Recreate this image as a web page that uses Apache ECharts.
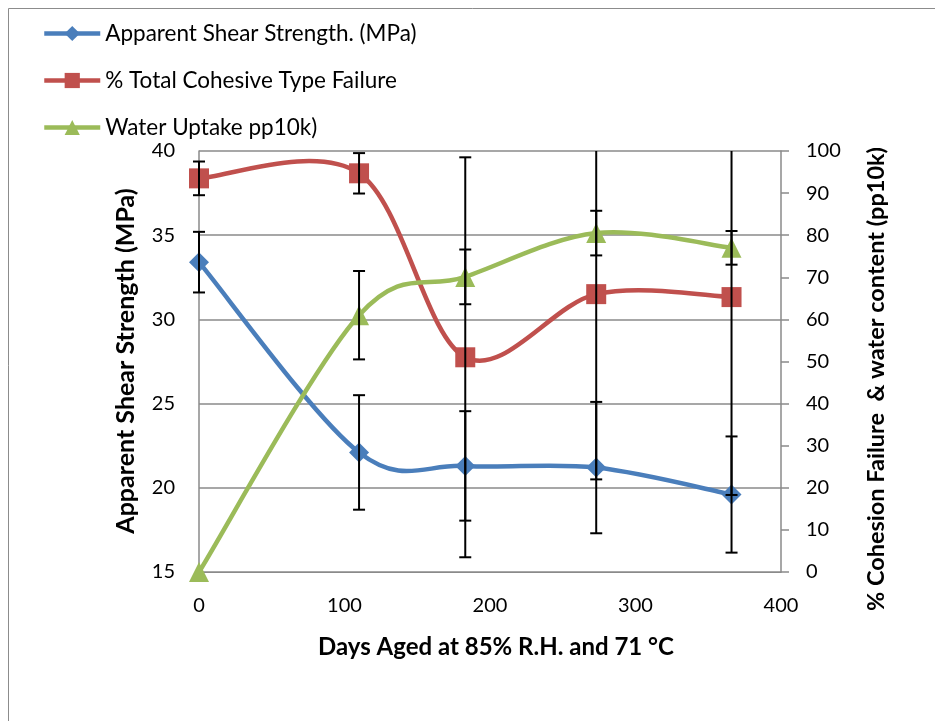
<!DOCTYPE html>
<html><head><meta charset="utf-8">
<script src="https://cdn.jsdelivr.net/npm/echarts@6/dist/echarts.min.js"></script>
<style>html,body{margin:0;padding:0;background:#fff}#c{width:935px;height:721px}</style>
</head><body><div id="c"></div>
<script>
const days = [0, 110, 183, 273, 366];
const shearStrength = [33.4, 22.1, 21.3, 21.2, 19.6];
const shearErr = [1.8, 3.4, 3.25, 3.9, 3.45];
const cohesiveFailure = [93.5, 94.7, 51.0, 66.0, 65.3];
const cohesiveErr = [4.0, 4.8, 47.5, 44.0, 47.0];
const waterUptake = [0, 61.0, 70.1, 80.5, 77.0];
const waterErr = [0, 10.5, 6.5, 5.3, 4.0];
const xTicks = [0, 400, 100];
const leftTicks = [15, 40, 5];
const rightTicks = [0, 100, 10];
const names = ['Apparent Shear Strength. (MPa)', '% Total Cohesive Type Failure', 'Water Uptake pp10k)'];
const colors = ['#4A7EBB', '#C0504D', '#9BBB59'];
const FONT = 'Lato';

const chart = echarts.init(document.getElementById('c'), null, {renderer: 'canvas'});

function pairs(xs, ys) { return xs.map((x, i) => [x, ys[i]]); }
function errData(xs, ys, es) { return xs.map((x, i) => [x, ys[i], es[i]]); }

// Smooth (Catmull-Rom style, as spreadsheet "smoothed line") curve through the data points
function curveSeries(xs, ys, yIdx, color) {
  return {
    type: 'custom', yAxisIndex: yIdx, z: 2, silent: true,
    data: pairs(xs, ys),
    renderItem: function (params, api) {
      const i = params.dataIndex, n = xs.length;
      if (i >= n - 1) return null;
      const P = j => api.coord([xs[Math.max(0, Math.min(n - 1, j))], ys[Math.max(0, Math.min(n - 1, j))]]);
      const p0 = P(i - 1), p1 = P(i), p2 = P(i + 1), p3 = P(i + 2);
      const k = 1 / 6;
      return {
        type: 'bezierCurve',
        shape: {
          x1: p1[0], y1: p1[1], x2: p2[0], y2: p2[1],
          cpx1: p1[0] + (p2[0] - p0[0]) * k, cpy1: p1[1] + (p2[1] - p0[1]) * k,
          cpx2: p2[0] - (p3[0] - p1[0]) * k, cpy2: p2[1] - (p3[1] - p1[1]) * k
        },
        style: {stroke: color, lineWidth: 4.5, fill: null, lineCap: 'round'}
      };
    }
  };
}

function errSeries(data, yIdx, lo, hi) {
  return {
    type: 'custom', yAxisIndex: yIdx, z: 5, silent: true,
    data: data,
    renderItem: function (params, api) {
      const x = api.value(0), c = api.value(1), e = api.value(2);
      if (!e) return null;
      const top = c + e, bot = c - e;
      const t = Math.min(top, hi), b = Math.max(bot, lo);
      const pt = api.coord([x, t]), pb = api.coord([x, b]);
      const st = {stroke: '#000', lineWidth: 2};
      const ch = [{type: 'line', shape: {x1: pt[0], y1: pt[1], x2: pb[0], y2: pb[1]}, style: st}];
      const w = 6;
      if (top <= hi) ch.push({type: 'line', shape: {x1: pt[0] - w, y1: pt[1], x2: pt[0] + w, y2: pt[1]}, style: st});
      if (bot >= lo) ch.push({type: 'line', shape: {x1: pb[0] - w, y1: pb[1], x2: pb[0] + w, y2: pb[1]}, style: st});
      return {type: 'group', children: ch};
    }
  };
}

const labelStyle = {color: '#000', fontFamily: FONT, fontSize: 20};

chart.setOption({
  animation: false,
  backgroundColor: '#fff',
  color: colors,
  grid: {left: 199, right: 154, top: 151, bottom: 149, containLabel: false},
  legend: {
    orient: 'vertical', left: 37, top: 17,
    itemWidth: 56, itemHeight: 19, itemGap: 24,
    lineStyle: {width: 4.5, opacity: 1},
    textStyle: {color: '#000', fontFamily: FONT, fontSize: 22.5, lineHeight: 20},
    data: names
  },
  xAxis: {
    type: 'value', min: xTicks[0], max: xTicks[1], interval: xTicks[2],
    axisLine: {show: true, lineStyle: {color: '#8a8a8a', width: 1}},
    axisTick: {show: false},
    splitLine: {show: false},
    axisLabel: Object.assign({margin: 24}, labelStyle)
  },
  yAxis: [
    {
      type: 'value', min: leftTicks[0], max: leftTicks[1], interval: leftTicks[2],
      axisLine: {show: true, lineStyle: {color: '#8a8a8a', width: 1.5}},
      axisTick: {show: false},
      splitLine: {show: true, lineStyle: {color: '#8a8a8a', width: 1.5}},
      axisLabel: Object.assign({margin: 24}, labelStyle)
    },
    {
      type: 'value', position: 'right', min: rightTicks[0], max: rightTicks[1], interval: rightTicks[2],
      axisLine: {show: true, lineStyle: {color: '#8a8a8a', width: 1.5}},
      axisTick: {show: true, length: 8, lineStyle: {color: '#8a8a8a', width: 1.5}},
      splitLine: {show: false},
      axisLabel: Object.assign({margin: 25}, labelStyle)
    }
  ],
  graphic: [
    {type: 'rect', shape: {x: 8.5, y: 8.5, width: 1200, height: 1200}, style: {fill: 'none', stroke: '#8c8c8c', lineWidth: 1}, silent: true, z: -1},
    {type: 'text', x: 496, y: 647, style: {text: 'Days Aged at 85% R.H. and 71 °C', fill: '#000', font: 'bold 24px ' + FONT, textAlign: 'center', textVerticalAlign: 'middle'}},
    {type: 'text', x: 126, y: 361, rotation: Math.PI / 2, style: {text: 'Apparent Shear Strength (MPa)', fill: '#000', font: 'bold 25px ' + FONT, textAlign: 'center', textVerticalAlign: 'middle'}},
    {type: 'text', x: 876, y: 379, rotation: Math.PI / 2, style: {text: '% Cohesion Failure  & water content (pp10k)', fill: '#000', font: 'bold 23.5px ' + FONT, textAlign: 'center', textVerticalAlign: 'middle'}}
  ],
  series: [
    {
      name: names[0], type: 'line', yAxisIndex: 0, z: 3,
      symbol: 'diamond', symbolSize: 20,
      lineStyle: {width: 4.5, color: colors[0], opacity: 0}, itemStyle: {color: colors[0]},
      data: pairs(days, shearStrength)
    },
    {
      name: names[1], type: 'line', yAxisIndex: 1, z: 3,
      symbol: 'rect', symbolSize: 20,
      lineStyle: {width: 4.5, color: colors[1], opacity: 0}, itemStyle: {color: colors[1]},
      data: pairs(days, cohesiveFailure)
    },
    {
      name: names[2], type: 'line', yAxisIndex: 1, z: 3,
      symbol: 'triangle', symbolSize: 20,
      lineStyle: {width: 4.5, color: colors[2], opacity: 0}, itemStyle: {color: colors[2]},
      data: pairs(days, waterUptake)
    },
    curveSeries(days, shearStrength, 0, colors[0]),
    curveSeries(days, cohesiveFailure, 1, colors[1]),
    curveSeries(days, waterUptake, 1, colors[2]),
    errSeries(errData(days, shearStrength, shearErr), 0, leftTicks[0], leftTicks[1]),
    errSeries(errData(days, cohesiveFailure, cohesiveErr), 1, rightTicks[0], rightTicks[1]),
    errSeries(errData(days, waterUptake, waterErr), 1, rightTicks[0], rightTicks[1])
  ]
});
</script></body></html>
